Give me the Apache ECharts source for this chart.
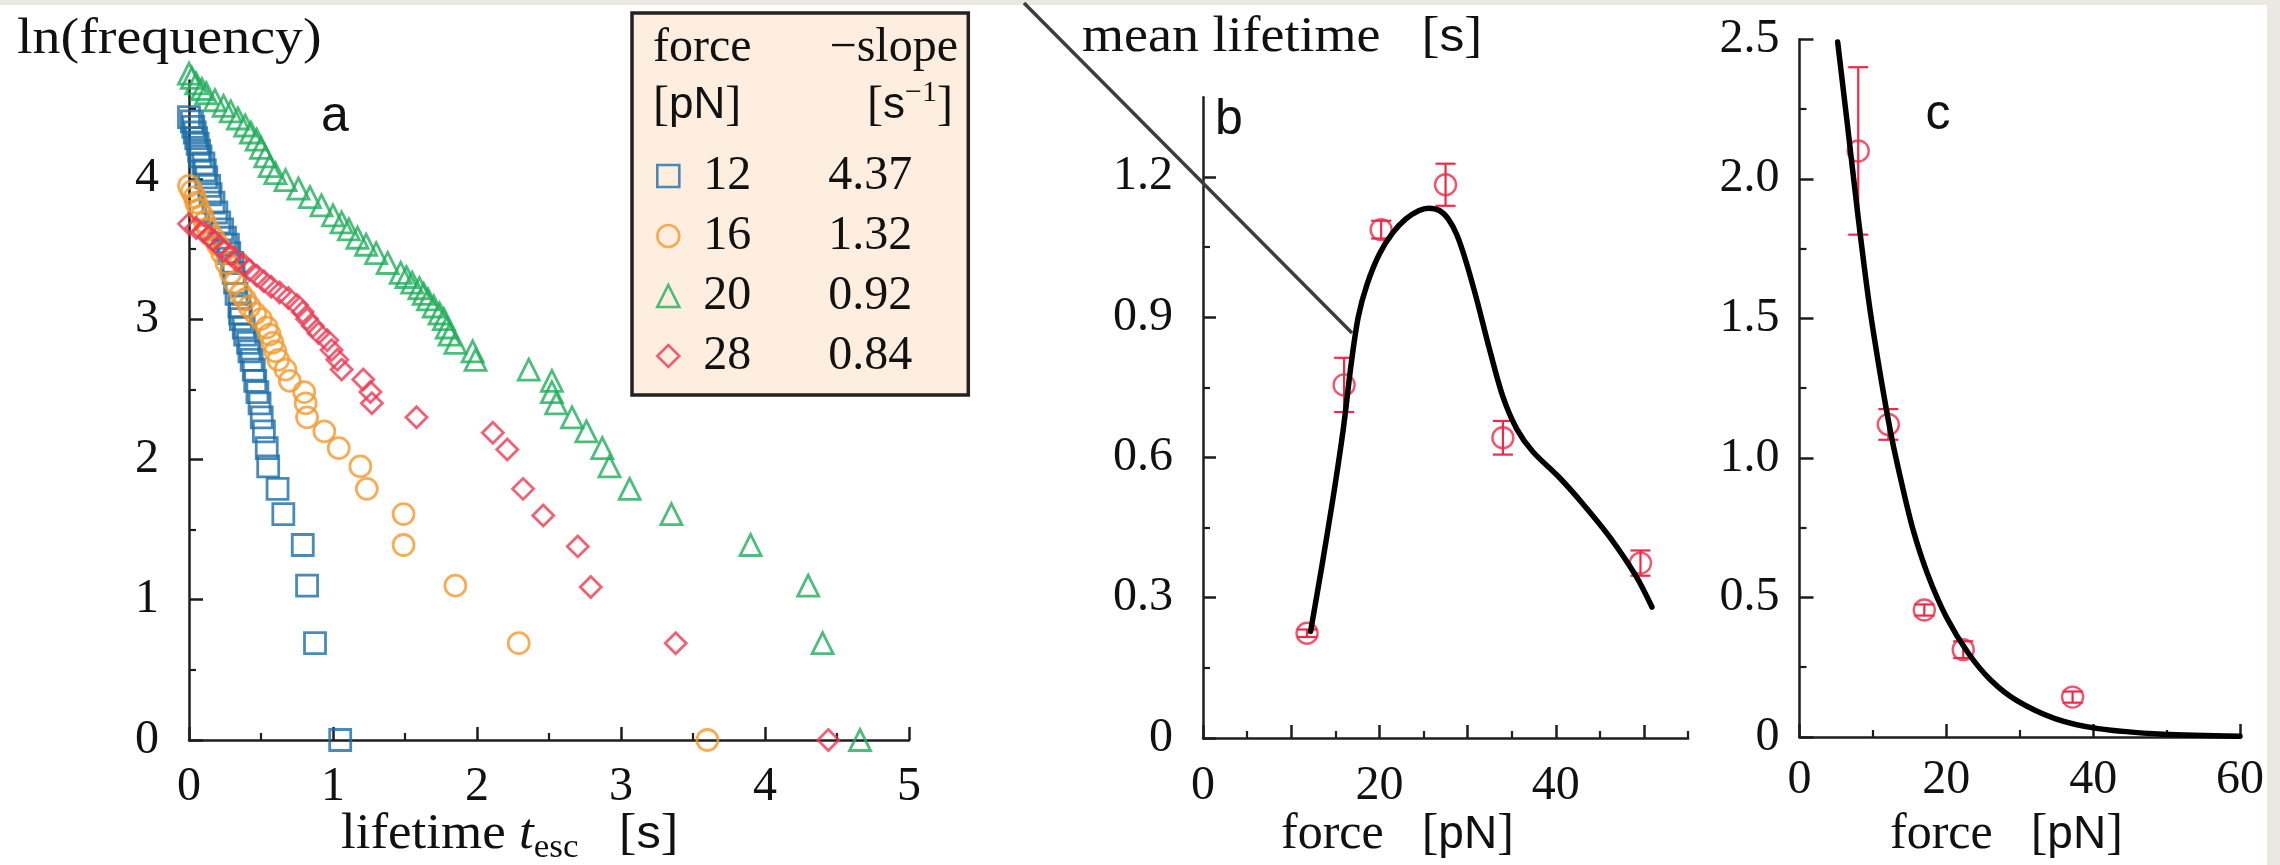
<!DOCTYPE html>
<html><head><meta charset="utf-8">
<script src="https://cdn.jsdelivr.net/npm/echarts@6.0.0/dist/echarts.min.js"></script>
<style>html,body{margin:0;padding:0;background:#ffffff;}#chart{width:2280px;height:865px;}</style>
</head><body><div id="chart"></div>
<script>
// ---------------- data ----------------
const forceLabels = ['12', '16', '20', '28'];
const slopeLabels = ['4.37', '1.32', '0.92', '0.84'];

// panel a : lifetime [s] vs ln(frequency)
const f12Time = [0.00,0.02,0.03,0.04,0.05,0.06,0.07,0.08,0.10,0.11,0.12,0.14,0.15,0.17,0.19,0.21,0.23,0.25,0.27,0.28,0.30,0.31,0.32,0.33,0.35,0.355,0.36,0.38,0.39,0.41,0.42,0.435,0.45,0.46,0.475,0.49,0.505,0.52,0.54,0.55,0.615,0.655,0.79,0.82,0.875,1.05];
const f12LnFreq = [4.44,4.41,4.37,4.33,4.29,4.25,4.20,4.16,4.11,4.06,4.01,3.95,3.89,3.83,3.76,3.69,3.64,3.58,3.53,3.47,3.40,3.33,3.26,3.18,3.09,3.04,3.00,2.94,2.89,2.83,2.77,2.71,2.64,2.56,2.48,2.40,2.30,2.20,2.08,1.95,1.79,1.61,1.39,1.10,0.69,0.00];

const f16Time = [0.00,0.02,0.04,0.05,0.07,0.09,0.11,0.13,0.17,0.20,0.23,0.26,0.29,0.32,0.36,0.39,0.42,0.46,0.50,0.54,0.56,0.58,0.60,0.62,0.67,0.70,0.80,0.81,0.82,0.94,1.04,1.19,1.235,1.49,1.49,1.85,2.29,3.60];
const f16LnFreq = [3.95,3.91,3.87,3.83,3.78,3.74,3.69,3.64,3.58,3.53,3.47,3.40,3.33,3.26,3.18,3.14,3.09,3.04,3.00,2.94,2.89,2.83,2.77,2.71,2.64,2.56,2.48,2.40,2.30,2.20,2.08,1.95,1.79,1.61,1.39,1.10,0.69,0.00];

const f20Time = [0.00,0.02,0.05,0.09,0.12,0.18,0.24,0.29,0.34,0.39,0.43,0.47,0.50,0.53,0.56,0.60,0.67,0.76,0.84,0.92,1.00,1.06,1.11,1.17,1.23,1.30,1.38,1.47,1.51,1.55,1.60,1.63,1.66,1.70,1.74,1.77,1.79,1.81,1.85,1.97,1.99,2.36,2.52,2.52,2.55,2.66,2.76,2.87,2.92,3.06,3.35,3.90,4.30,4.40,4.66];
const f20LnFreq = [4.75,4.72,4.68,4.64,4.61,4.56,4.52,4.48,4.43,4.38,4.33,4.28,4.22,4.16,4.09,4.04,3.99,3.93,3.87,3.81,3.74,3.69,3.64,3.58,3.53,3.47,3.40,3.33,3.30,3.26,3.22,3.18,3.14,3.09,3.04,3.00,2.94,2.89,2.83,2.77,2.71,2.64,2.56,2.48,2.40,2.30,2.20,2.08,1.95,1.79,1.61,1.39,1.10,0.69,0.00];

const f28Time = [0.00,0.05,0.10,0.14,0.17,0.21,0.24,0.29,0.33,0.38,0.42,0.47,0.52,0.57,0.63,0.69,0.75,0.79,0.82,0.86,0.90,0.96,0.99,1.03,1.06,1.21,1.26,1.27,1.58,2.11,2.21,2.32,2.46,2.70,2.79,3.38,4.44];
const f28LnFreq = [3.68,3.65,3.62,3.59,3.56,3.52,3.49,3.46,3.42,3.39,3.35,3.31,3.27,3.23,3.19,3.15,3.10,3.05,3.00,2.95,2.90,2.85,2.78,2.71,2.64,2.57,2.48,2.40,2.30,2.19,2.07,1.79,1.60,1.38,1.09,0.69,0.00];

// panel b : force [pN] vs mean lifetime [s]
const bForce = [11.8, 16.0, 20.2, 27.5, 34.0, 49.6];
const bLifetime = [0.224, 0.755, 1.087, 1.183, 0.642, 0.374];
const bError = [0.008, 0.058, 0.019, 0.045, 0.036, 0.027];
const bCurveForce = [12.2,13.5,14.8,15.9,16.8,17.6,18.6,20.0,21.5,23.0,24.5,25.6,26.8,27.8,28.8,29.8,31.0,32.5,34.0,35.6,37.4,40.4,43.1,46.1,49.1,50.9];
const bCurveLifetime = [0.228,0.37,0.52,0.66,0.80,0.90,0.97,1.035,1.08,1.11,1.128,1.133,1.128,1.11,1.075,1.02,0.94,0.83,0.73,0.66,0.612,0.557,0.50,0.43,0.346,0.28];

// panel c : force [pN] vs mean lifetime [s]
const cForce = [8.0, 12.1, 17.0, 22.3, 37.2];
const cLifetime = [2.10, 1.12, 0.455, 0.313, 0.143];
const cError = [0.30, 0.055, 0.02, 0.03, 0.02];
const cCurveForce = [5.2,6.5,8.0,9.5,11.0,12.5,14.0,15.5,17.5,20.0,23.0,26.0,29.5,34.8,40.7,49.5,60];
const cCurveLifetime = [2.49,2.2,1.86,1.55,1.3,1.08,0.9,0.74,0.58,0.43,0.30,0.205,0.132,0.066,0.03,0.01,0.003];

// tick values / labels
const aXTicks = [0,1,2,3,4,5], aXMinor = [0.5,1.5,2.5,3.5,4.5];
const aYTicks = [0,1,2,3,4], aYMinor = [0.5,1.5,2.5,3.5,4.5];
const bXTicks = [0,10,20,30,40,50], bXMinor = [5,15,25,35,45,55], bXLabels = [0,20,40];
const bYTicks = [0,0.3,0.6,0.9,1.2], bYMinor = [0.15,0.45,0.75,1.05];
const cXTicks = [0,20,40,60], cXMinor = [10,30,50];
const cYTicks = [0,0.5,1,1.5,2,2.5], cYMinor = [0.25,0.75,1.25,1.75,2.25];

// ---------------- style ----------------
const SERIF = '"Liberation Serif","Times New Roman",serif';
const SANS = '"Liberation Sans",Arial,sans-serif';
const INK = '#111111';
const AXC = '#1e1e1e';
const C_BLUE = '#1c6ea6', C_ORANGE = '#f39a2e', C_GREEN = '#1fae5a', C_RED = '#ec3a52', C_RED2 = '#ee2a48';

const zip = (a, b) => a.map((v, i) => [v, b[i]]);
const fmtInt = v => String(Math.round(v));
const fmtDec = v => (Math.abs(v) < 1e-9 ? '0' : v.toFixed(1));

function axisPair(dim, grid, min, max, major, minor, labels, fmt, margin, majLen, minLen) {
  const position = dim === 'x' ? 'bottom' : 'left';
  const main = {
    type: 'value', gridIndex: grid, min, max, position,
    axisLine: { show: true, onZero: false, lineStyle: { color: AXC, width: 2.5 } },
    axisTick: { show: true, inside: true, length: majLen, customValues: major, lineStyle: { color: AXC, width: 2.5 } },
    minorTick: { show: false },
    axisLabel: { show: true, customValues: labels, formatter: fmt, margin, fontFamily: SERIF, fontSize: 48, color: INK },
    splitLine: { show: false }
  };
  const sub = {
    type: 'value', gridIndex: grid, min, max, position,
    axisLine: { show: false, onZero: false },
    axisTick: { show: true, inside: true, length: minLen, customValues: minor, lineStyle: { color: AXC, width: 2.2 } },
    minorTick: { show: false },
    axisLabel: { show: false },
    splitLine: { show: false }
  };
  return [main, sub];
}

const xAxes = [
  ...axisPair('x', 0, 0, 5, aXTicks, aXMinor, aXTicks, fmtInt, 23, 13, 7),
  ...axisPair('x', 1, 0, 55, bXTicks, bXMinor, bXLabels, fmtInt, 24, 13, 7),
  ...axisPair('x', 2, 0, 60, cXTicks, cXMinor, cXTicks, fmtInt, 19, 13, 7)
];
const yAxes = [
  ...axisPair('y', 0, 0, 4.7, aYTicks, aYMinor, aYTicks, fmtInt, 30, 14, 7),
  ...axisPair('y', 1, 0, 1.37, bYTicks, bYMinor, bYTicks, fmtDec, 30, 13, 7),
  ...axisPair('y', 2, 0, 2.5, cYTicks, cYMinor, cYTicks, fmtDec, 20, 14, 7)
];

function scatterA(name, sym, color, t, v) {
  return {
    type: 'scatter', name, xAxisIndex: 0, yAxisIndex: 0, symbol: sym, symbolSize: 21,
    data: zip(t, v), clip: false, silent: true,
    itemStyle: { color: 'rgba(0,0,0,0)', borderColor: color, borderWidth: 2.8 },
    emphasis: { disabled: true }
  };
}

function errRender(color) {
  return function (params, api) {
    const x = api.value(0), y = api.value(1), e = api.value(2);
    const p1 = api.coord([x, y + e]), p2 = api.coord([x, y - e]);
    const hw = 10;
    const st = { stroke: color, lineWidth: 2.2 };
    return { type: 'group', children: [
      { type: 'line', shape: { x1: p1[0], y1: p1[1], x2: p2[0], y2: p2[1] }, style: st },
      { type: 'line', shape: { x1: p1[0] - hw, y1: p1[1], x2: p1[0] + hw, y2: p1[1] }, style: st },
      { type: 'line', shape: { x1: p2[0] - hw, y1: p2[1], x2: p2[0] + hw, y2: p2[1] }, style: st }
    ]};
  };
}

function panelFit(ax, f, v, e, cf, cv) {
  return [
    { type: 'custom', xAxisIndex: ax, yAxisIndex: ax, data: f.map((x, i) => [x, v[i], e[i]]),
      renderItem: errRender(C_RED2), clip: false, silent: true, z: 3 },
    { type: 'scatter', xAxisIndex: ax, yAxisIndex: ax, data: zip(f, v), symbol: 'circle', symbolSize: 21,
      itemStyle: { color: 'rgba(0,0,0,0)', borderColor: C_RED2, borderWidth: 2.4 }, clip: false, silent: true, z: 3 },
    { type: 'line', xAxisIndex: ax, yAxisIndex: ax, data: zip(cf, cv), showSymbol: false, symbol: 'none',
      smooth: 0.3, lineStyle: { color: '#000', width: 5.5, cap: 'round', join: 'round' }, silent: true, z: 4 }
  ];
}

const rTitle = {
  r: { fontFamily: SERIF, fontSize: 50, lineHeight: 60, fill: INK },
  i: { fontFamily: SERIF, fontSize: 50, lineHeight: 60, fill: INK, fontStyle: 'italic' },
  sub: { fontFamily: SERIF, fontSize: 33, lineHeight: 33, fill: INK, verticalAlign: 'bottom' },
  s: { fontFamily: SANS, fontSize: 46, lineHeight: 60, fill: INK },
  gap: { width: 38, lineHeight: 60 }
};
const rLegHead = {
  r: { fontFamily: SERIF, fontSize: 48, lineHeight: 56, fill: INK },
  s: { fontFamily: SANS, fontSize: 44, lineHeight: 56, fill: INK },
  sup: { fontFamily: SERIF, fontSize: 30, lineHeight: 30, fill: INK, verticalAlign: 'top' }
};

function txt(x, y, text, rich, align, sx) {
  return { type: 'text', x, y, z: 100, scaleX: sx || 1,
    style: { text, rich, align: align || 'left', textAlign: align || 'left', verticalAlign: 'middle', textVerticalAlign: 'middle' } };
}
function letter(x, y, ch) {
  return { type: 'text', x, y, z: 100,
    style: { text: ch, fontFamily: SANS, fontSize: 50, fill: INK, align: 'center', textAlign: 'center', verticalAlign: 'middle', textVerticalAlign: 'middle' } };
}

const option = {
  animation: false,
  backgroundColor: '#ffffff',
  grid: [
    { left: 189, top: 80.6, width: 720, height: 659.4, containLabel: false, outerBoundsMode: 'none' },
    { left: 1203, top: 97.3, width: 485.1, height: 640.7, containLabel: false, outerBoundsMode: 'none' },
    { left: 1799.5, top: 39.3, width: 440.5, height: 697.7, containLabel: false, outerBoundsMode: 'none' }
  ],
  xAxis: xAxes,
  yAxis: yAxes,
  legend: {
    show: true, orient: 'vertical', left: 632, top: 13,
    padding: [139, 56, 15, 24],
    itemGap: 12, itemWidth: 22, itemHeight: 22,
    itemStyle: { borderWidth: 2.6 },
    backgroundColor: '#fdeee0', borderColor: '#222222', borderWidth: 3.5, borderRadius: 0,
    selectedMode: false,
    data: forceLabels,
    formatter: name => `{g| }{f|${name}}{s|${slopeLabels[forceLabels.indexOf(name)]}}`,
    textStyle: {
      fontFamily: SERIF, fontSize: 48, color: INK,
      rich: {
        g: { width: 19, fontSize: 48, lineHeight: 48 },
        f: { width: 125, fontFamily: SERIF, fontSize: 48, lineHeight: 48, color: INK },
        s: { fontFamily: SERIF, fontSize: 48, lineHeight: 48, color: INK }
      }
    }
  },
  series: [
    scatterA('12', 'rect', C_BLUE, f12Time, f12LnFreq),
    scatterA('16', 'circle', C_ORANGE, f16Time, f16LnFreq),
    scatterA('20', 'triangle', C_GREEN, f20Time, f20LnFreq),
    scatterA('28', 'diamond', C_RED, f28Time, f28LnFreq),
    ...panelFit(2, bForce, bLifetime, bError, bCurveForce, bCurveLifetime),
    ...panelFit(4, cForce, cLifetime, cError, cCurveForce, cCurveLifetime)
  ],
  graphic: { elements: [
    { type: 'rect', shape: { x: 0, y: 0, width: 2280, height: 5 }, style: { fill: '#ebe8e1' }, z: 0 },
    { type: 'rect', shape: { x: 2267, y: 0, width: 13, height: 865 }, style: { fill: '#ebe8e1' }, z: 0 },
    { type: 'line', shape: { x1: 1024, y1: 3, x2: 1352, y2: 333 }, style: { stroke: '#3d3d3d', lineWidth: 3.5 }, z: 50 },
    txt(17, 40, '{r|ln(frequency)}', rTitle, 'left', 1.12),
    txt(1082, 38, '{r|mean lifetime}{gap|}{r|[}{s|s}{r|]}', rTitle, 'left', 1.08),
    txt(341, 835, '{r|lifetime }{i|t}{sub|esc}{gap|}{r|[}{s|s}{r|]}', rTitle, 'left', 1.06),
    txt(1281, 835, '{r|force}{gap|}{r|[}{s|pN}{r|]}', rTitle),
    txt(1890, 835, '{r|force}{gap|}{r|[}{s|pN}{r|]}', rTitle),
    txt(653, 48, '{r|force}', rLegHead),
    txt(958, 48, '{r|\u2212slope}', rLegHead, 'right'),
    txt(653, 106, '{r|[}{s|pN}{r|]}', rLegHead),
    txt(953, 106, '{r|[}{s|s}{sup|\u22121}{r|]}', rLegHead, 'right'),
    letter(335, 117, 'a'),
    letter(1229, 120, 'b'),
    letter(1938, 115, 'c')
  ]}
};

const chart = echarts.init(document.getElementById('chart'), null, { renderer: 'canvas', width: 2280, height: 865 });
chart.setOption(option);
</script>
</body></html>
